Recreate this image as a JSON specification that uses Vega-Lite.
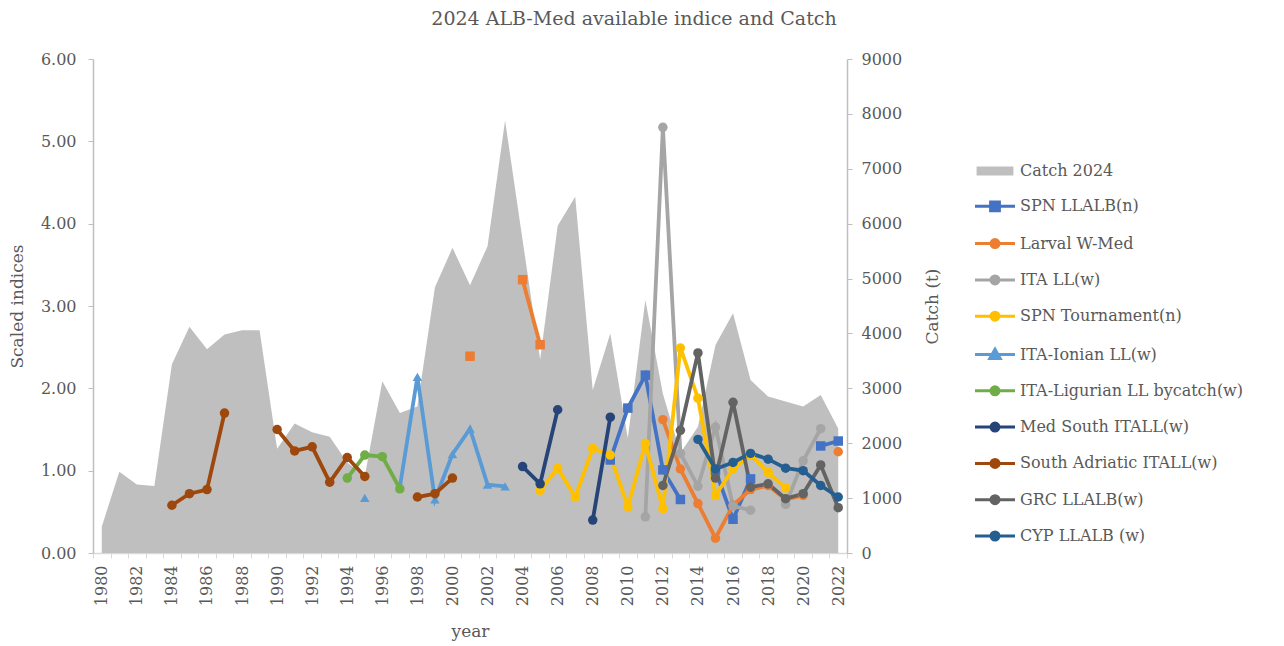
{
  "$schema": "https://vega.github.io/schema/vega-lite/v6.json",
  "width": 754,
  "height": 494,
  "autosize": {"type": "none"},
  "padding": {"left": 93, "top": 59, "right": 437, "bottom": 93},
  "background": "white",
  "title": {"text": "2024 ALB-Med available indice and Catch", "fontSize": 19, "fontWeight": "normal", "color": "#595959", "font": "DejaVu Serif", "anchor": "middle", "frame": "group", "dx": 164, "offset": 22},
  "config": {"view": {"stroke": null}, "font": "DejaVu Serif"},
  "datasets": {
    "catch": [
      {"year": 1980, "catch": 480}, {"year": 1981, "catch": 1480}, {"year": 1982, "catch": 1250}, {"year": 1983, "catch": 1220},
      {"year": 1984, "catch": 3440}, {"year": 1985, "catch": 4120}, {"year": 1986, "catch": 3710}, {"year": 1987, "catch": 3980},
      {"year": 1988, "catch": 4060}, {"year": 1989, "catch": 4060}, {"year": 1990, "catch": 1900}, {"year": 1991, "catch": 2360},
      {"year": 1992, "catch": 2200}, {"year": 1993, "catch": 2120}, {"year": 1994, "catch": 1650}, {"year": 1995, "catch": 1400},
      {"year": 1996, "catch": 3130}, {"year": 1997, "catch": 2550}, {"year": 1998, "catch": 2670}, {"year": 1999, "catch": 4840},
      {"year": 2000, "catch": 5560}, {"year": 2001, "catch": 4880}, {"year": 2002, "catch": 5590}, {"year": 2003, "catch": 7880},
      {"year": 2004, "catch": 5700}, {"year": 2005, "catch": 3530}, {"year": 2006, "catch": 5960}, {"year": 2007, "catch": 6490},
      {"year": 2008, "catch": 2970}, {"year": 2009, "catch": 4000}, {"year": 2010, "catch": 2090}, {"year": 2011, "catch": 4610},
      {"year": 2012, "catch": 2900}, {"year": 2013, "catch": 1820}, {"year": 2014, "catch": 2300}, {"year": 2015, "catch": 3790},
      {"year": 2016, "catch": 4370}, {"year": 2017, "catch": 3150}, {"year": 2018, "catch": 2850}, {"year": 2019, "catch": 2760},
      {"year": 2020, "catch": 2670}, {"year": 2021, "catch": 2880}, {"year": 2022, "catch": 2270}
    ],
    "idx": [
      {"series": "SPN LLALB(n)", "year": 2009, "value": 1.13},
      {"series": "SPN LLALB(n)", "year": 2010, "value": 1.76},
      {"series": "SPN LLALB(n)", "year": 2011, "value": 2.16},
      {"series": "SPN LLALB(n)", "year": 2012, "value": 1.01},
      {"series": "SPN LLALB(n)", "year": 2013, "value": 0.65},
      {"series": "SPN LLALB(n)", "year": 2014, "value": null},
      {"series": "SPN LLALB(n)", "year": 2015, "value": 1.0},
      {"series": "SPN LLALB(n)", "year": 2016, "value": 0.41},
      {"series": "SPN LLALB(n)", "year": 2017, "value": 0.9},
      {"series": "SPN LLALB(n)", "year": 2018, "value": null},
      {"series": "SPN LLALB(n)", "year": 2021, "value": 1.3},
      {"series": "SPN LLALB(n)", "year": 2022, "value": 1.36},

      {"series": "Larval W-Med (2001-2005)", "year": 2001, "value": 2.39},
      {"series": "Larval W-Med (2001-2005)", "year": 2002, "value": null},
      {"series": "Larval W-Med (2001-2005)", "year": 2004, "value": 3.32},
      {"series": "Larval W-Med (2001-2005)", "year": 2005, "value": 2.53},

      {"series": "Larval W-Med", "year": 2012, "value": 1.62},
      {"series": "Larval W-Med", "year": 2013, "value": 1.02},
      {"series": "Larval W-Med", "year": 2014, "value": 0.6},
      {"series": "Larval W-Med", "year": 2015, "value": 0.18},
      {"series": "Larval W-Med", "year": 2016, "value": 0.58},
      {"series": "Larval W-Med", "year": 2017, "value": 0.77},
      {"series": "Larval W-Med", "year": 2018, "value": 0.82},
      {"series": "Larval W-Med", "year": 2019, "value": 0.65},
      {"series": "Larval W-Med", "year": 2020, "value": 0.7},
      {"series": "Larval W-Med", "year": 2021, "value": null},
      {"series": "Larval W-Med", "year": 2022, "value": 1.23},

      {"series": "ITA LL(w)", "year": 2011, "value": 0.44},
      {"series": "ITA LL(w)", "year": 2012, "value": 5.17},
      {"series": "ITA LL(w)", "year": 2013, "value": 1.21},
      {"series": "ITA LL(w)", "year": 2014, "value": 0.81},
      {"series": "ITA LL(w)", "year": 2015, "value": 1.53},
      {"series": "ITA LL(w)", "year": 2016, "value": 0.57},
      {"series": "ITA LL(w)", "year": 2017, "value": 0.52},
      {"series": "ITA LL(w)", "year": 2018, "value": null},
      {"series": "ITA LL(w)", "year": 2019, "value": 0.59},
      {"series": "ITA LL(w)", "year": 2020, "value": 1.12},
      {"series": "ITA LL(w)", "year": 2021, "value": 1.51},

      {"series": "SPN Tournament(n)", "year": 2005, "value": 0.76},
      {"series": "SPN Tournament(n)", "year": 2006, "value": 1.03},
      {"series": "SPN Tournament(n)", "year": 2007, "value": 0.68},
      {"series": "SPN Tournament(n)", "year": 2008, "value": 1.27},
      {"series": "SPN Tournament(n)", "year": 2009, "value": 1.19},
      {"series": "SPN Tournament(n)", "year": 2010, "value": 0.56},
      {"series": "SPN Tournament(n)", "year": 2011, "value": 1.33},
      {"series": "SPN Tournament(n)", "year": 2012, "value": 0.54},
      {"series": "SPN Tournament(n)", "year": 2013, "value": 2.49},
      {"series": "SPN Tournament(n)", "year": 2014, "value": 1.88},
      {"series": "SPN Tournament(n)", "year": 2015, "value": 0.7},
      {"series": "SPN Tournament(n)", "year": 2016, "value": 1.02},
      {"series": "SPN Tournament(n)", "year": 2017, "value": 1.19},
      {"series": "SPN Tournament(n)", "year": 2018, "value": 0.98},
      {"series": "SPN Tournament(n)", "year": 2019, "value": 0.79},

      {"series": "ITA-Ionian LL(w)", "year": 1995, "value": 0.67},
      {"series": "ITA-Ionian LL(w)", "year": 1996, "value": null},
      {"series": "ITA-Ionian LL(w)", "year": 1997, "value": 0.8},
      {"series": "ITA-Ionian LL(w)", "year": 1998, "value": 2.14},
      {"series": "ITA-Ionian LL(w)", "year": 1999, "value": 0.65},
      {"series": "ITA-Ionian LL(w)", "year": 2000, "value": 1.2},
      {"series": "ITA-Ionian LL(w)", "year": 2001, "value": 1.51},
      {"series": "ITA-Ionian LL(w)", "year": 2002, "value": 0.83},
      {"series": "ITA-Ionian LL(w)", "year": 2003, "value": 0.81},

      {"series": "ITA-Ligurian LL bycatch(w)", "year": 1994, "value": 0.91},
      {"series": "ITA-Ligurian LL bycatch(w)", "year": 1995, "value": 1.19},
      {"series": "ITA-Ligurian LL bycatch(w)", "year": 1996, "value": 1.17},
      {"series": "ITA-Ligurian LL bycatch(w)", "year": 1997, "value": 0.78},

      {"series": "Med South ITALL(w)", "year": 2004, "value": 1.05},
      {"series": "Med South ITALL(w)", "year": 2005, "value": 0.84},
      {"series": "Med South ITALL(w)", "year": 2006, "value": 1.74},
      {"series": "Med South ITALL(w)", "year": 2007, "value": null},
      {"series": "Med South ITALL(w)", "year": 2008, "value": 0.4},
      {"series": "Med South ITALL(w)", "year": 2009, "value": 1.65},

      {"series": "South Adriatic ITALL(w)", "year": 1984, "value": 0.58},
      {"series": "South Adriatic ITALL(w)", "year": 1985, "value": 0.72},
      {"series": "South Adriatic ITALL(w)", "year": 1986, "value": 0.77},
      {"series": "South Adriatic ITALL(w)", "year": 1987, "value": 1.7},
      {"series": "South Adriatic ITALL(w)", "year": 1988, "value": null},
      {"series": "South Adriatic ITALL(w)", "year": 1990, "value": 1.5},
      {"series": "South Adriatic ITALL(w)", "year": 1991, "value": 1.24},
      {"series": "South Adriatic ITALL(w)", "year": 1992, "value": 1.29},
      {"series": "South Adriatic ITALL(w)", "year": 1993, "value": 0.86},
      {"series": "South Adriatic ITALL(w)", "year": 1994, "value": 1.16},
      {"series": "South Adriatic ITALL(w)", "year": 1995, "value": 0.93},
      {"series": "South Adriatic ITALL(w)", "year": 1996, "value": null},
      {"series": "South Adriatic ITALL(w)", "year": 1998, "value": 0.68},
      {"series": "South Adriatic ITALL(w)", "year": 1999, "value": 0.72},
      {"series": "South Adriatic ITALL(w)", "year": 2000, "value": 0.91},

      {"series": "GRC  LLALB(w)", "year": 2012, "value": 0.82},
      {"series": "GRC  LLALB(w)", "year": 2013, "value": 1.49},
      {"series": "GRC  LLALB(w)", "year": 2014, "value": 2.43},
      {"series": "GRC  LLALB(w)", "year": 2015, "value": 0.91},
      {"series": "GRC  LLALB(w)", "year": 2016, "value": 1.83},
      {"series": "GRC  LLALB(w)", "year": 2017, "value": 0.8},
      {"series": "GRC  LLALB(w)", "year": 2018, "value": 0.84},
      {"series": "GRC  LLALB(w)", "year": 2019, "value": 0.66},
      {"series": "GRC  LLALB(w)", "year": 2020, "value": 0.72},
      {"series": "GRC  LLALB(w)", "year": 2021, "value": 1.07},
      {"series": "GRC  LLALB(w)", "year": 2022, "value": 0.55},

      {"series": "CYP LLALB (w)", "year": 2014, "value": 1.38},
      {"series": "CYP LLALB (w)", "year": 2015, "value": 1.02},
      {"series": "CYP LLALB (w)", "year": 2016, "value": 1.1},
      {"series": "CYP LLALB (w)", "year": 2017, "value": 1.21},
      {"series": "CYP LLALB (w)", "year": 2018, "value": 1.14},
      {"series": "CYP LLALB (w)", "year": 2019, "value": 1.03},
      {"series": "CYP LLALB (w)", "year": 2020, "value": 1.0},
      {"series": "CYP LLALB (w)", "year": 2021, "value": 0.82},
      {"series": "CYP LLALB (w)", "year": 2022, "value": 0.68}
    ]
  },
  "resolve": {"scale": {"y": "independent", "x": "independent"}},
  "layer": [
    {
      "data": {"name": "catch"},
      "mark": {"type": "area", "color": "#BFBFBF", "opacity": 1},
      "encoding": {
        "x": {"field": "year", "type": "quantitative",
          "scale": {"domain": [1979.5, 2022.5], "nice": false, "zero": false},
          "axis": {"orient": "bottom", "title": null, "labels": false, "grid": false,
            "values": [1979.5,1980.5,1981.5,1982.5,1983.5,1984.5,1985.5,1986.5,1987.5,1988.5,1989.5,1990.5,1991.5,1992.5,1993.5,1994.5,1995.5,1996.5,1997.5,1998.5,1999.5,2000.5,2001.5,2002.5,2003.5,2004.5,2005.5,2006.5,2007.5,2008.5,2009.5,2010.5,2011.5,2012.5,2013.5,2014.5,2015.5,2016.5,2017.5,2018.5,2019.5,2020.5,2021.5,2022.5],
            "tickSize": 5, "tickColor": "#D9D9D9", "domainColor": "#D9D9D9", "domainWidth": 1.5}},
        "y": {"field": "catch", "type": "quantitative",
          "scale": {"domain": [0, 9000], "nice": false},
          "axis": {"orient": "right", "title": "Catch (t)", "titleAngle": 270, "values": [0,1000,2000,3000,4000,5000,6000,7000,8000,9000],
            "format": "d", "grid": false, "tickSize": 5, "tickColor": "#BFBFBF", "domainColor": "#BFBFBF", "domainWidth": 1.5,
            "labelFontSize": 16, "labelColor": "#595959", "labelPadding": 9, "titleFontSize": 17, "titleFontWeight": "normal", "titleColor": "#595959", "titlePadding": 40}},
        "color": {"datum": "Catch 2024"}
      }
    },
    {
      "data": {"name": "idx"},
      "encoding": {
        "x": {"field": "year", "type": "quantitative",
          "scale": {"domain": [1979.5, 2022.5], "nice": false, "zero": false},
          "axis": {"orient": "bottom", "title": "year", "grid": false, "ticks": false, "tickSize": 0, "domain": false,
            "values": [1980,1982,1984,1986,1988,1990,1992,1994,1996,1998,2000,2002,2004,2006,2008,2010,2012,2014,2016,2018,2020,2022],
            "format": "d", "labelAngle": -90, "labelPadding": 12, "labelFontSize": 16, "labelColor": "#595959",
            "titleFontSize": 17, "titleFontWeight": "normal", "titleColor": "#595959", "titlePadding": 18}},
        "y": {"field": "value", "type": "quantitative",
          "scale": {"domain": [0, 6], "nice": false},
          "axis": {"orient": "left", "title": "Scaled indices", "values": [0,1,2,3,4,5,6], "format": ".2f", "grid": false,
            "tickSize": 5, "tickColor": "#BFBFBF", "domainColor": "#BFBFBF", "domainWidth": 1.5,
            "labelFontSize": 16, "labelColor": "#595959", "labelPadding": 12, "titleFontSize": 17, "titleFontWeight": "normal", "titleColor": "#595959", "titlePadding": 14}},
        "color": {"field": "series", "type": "nominal",
          "scale": {
            "domain": ["Catch 2024", "SPN LLALB(n)", "Larval W-Med", "ITA LL(w)", "SPN Tournament(n)", "ITA-Ionian LL(w)", "ITA-Ligurian LL bycatch(w)", "Med South ITALL(w)", "South Adriatic ITALL(w)", "GRC  LLALB(w)", "CYP LLALB (w)", "Larval W-Med (2001-2005)"],
            "range": ["#BFBFBF", "#4472C4", "#ED7D31", "#A5A5A5", "#FFC000", "#5B9BD5", "#70AD47", "#264478", "#9E480E", "#636363", "#255E91", "#ED7D31"]},
          "legend": {
            "orient": "none", "legendX": 894, "legendY": 104, "title": null, "padding": 0,
            "values": ["Catch 2024", "SPN LLALB(n)", "Larval W-Med", "ITA LL(w)", "SPN Tournament(n)", "ITA-Ionian LL(w)", "ITA-Ligurian LL bycatch(w)", "Med South ITALL(w)", "South Adriatic ITALL(w)", "GRC  LLALB(w)", "CYP LLALB (w)"],
            "symbolSize": 1600, "rowPadding": 16.3, "labelOffset": 17, "labelFontSize": 16, "labelColor": "#595959", "labelFont": "DejaVu Serif", "labelLimit": 400,
            "encode": {"symbols": {"update": {
              "shape": {"signal": "datum.value === 'Catch 2024' ? 'M-0.92,-0.22H0.92V0.22H-0.92Z' : datum.value === 'SPN LLALB(n)' ? 'M-1,0H1M-0.22,-0.22H0.22V0.22H-0.22Z' : datum.value === 'ITA-Ionian LL(w)' ? 'M-1,0H1M0,-0.26L0.26,0.2H-0.26Z' : 'M-1,0H1M0.2,0A0.2,0.2 0 1,1 -0.2,0A0.2,0.2 0 1,1 0.2,0Z'"},
              "fill": {"signal": "scale('color', datum.value)"},
              "stroke": {"signal": "scale('color', datum.value)"},
              "strokeWidth": {"signal": "datum.value === 'Catch 2024' ? 0 : 3"},
              "opacity": {"value": 1},
              "fillOpacity": {"value": 1},
              "strokeOpacity": {"value": 1},
              "size": {"value": 1600}
            }}}
          }
        }
      },
      "layer": [
        {"mark": {"type": "line", "strokeWidth": 3.8, "invalid": "break-paths-filter-domains"}},
        {"mark": {"type": "point", "filled": true, "opacity": 1, "size": 90},
         "encoding": {
           "shape": {"field": "series", "type": "nominal", "legend": null,
             "scale": {
               "domain": ["SPN LLALB(n)", "Larval W-Med", "ITA LL(w)", "SPN Tournament(n)", "ITA-Ionian LL(w)", "ITA-Ligurian LL bycatch(w)", "Med South ITALL(w)", "South Adriatic ITALL(w)", "GRC  LLALB(w)", "CYP LLALB (w)", "Larval W-Med (2001-2005)"],
               "range": ["square", "circle", "circle", "circle", "triangle-up", "circle", "circle", "circle", "circle", "circle", "square"]}}
         }}
      ]
    }
  ]
}
